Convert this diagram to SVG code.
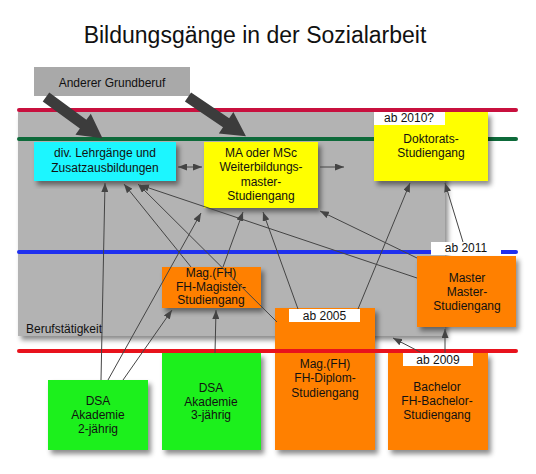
<svg xmlns="http://www.w3.org/2000/svg" width="536" height="474" viewBox="0 0 536 474">
<defs>
<filter id="sh" x="-20%" y="-20%" width="140%" height="140%">
<feDropShadow dx="3" dy="4" stdDeviation="2.5" flood-color="#000" flood-opacity="0.45"/>
</filter>
<marker id="ah" viewBox="0 0 9 7" markerWidth="9" markerHeight="7" refX="9" refY="3.5" orient="auto-start-reverse" markerUnits="userSpaceOnUse">
<path d="M0,0 L9,3.5 L0,7 z" fill="#444"/>
</marker>
<path id="bigarrow" d="M0,-5.5 L46,-5.5 L46,-13 L70,0 L46,13 L46,5.5 L0,5.5 z" fill="#3c3c3c"/>
</defs>
<style>
text{font-family:"Liberation Sans",Arial,sans-serif;font-size:12px;fill:#111}
.c{text-anchor:middle}
.box{filter:url(#sh)}
.lbl{fill:#fff}
.con{stroke:#444;stroke-width:1;fill:none;marker-end:url(#ah)}
.hl{stroke-width:4;stroke-linecap:round;fill:none}
</style>
<rect width="536" height="474" fill="#fff"/>
<text x="255" y="43" class="c" style="font-size:23px">Bildungsgänge in der Sozialarbeit</text>

<g id="berufstaetigkeit">
<rect x="18" y="112" width="427" height="224" fill="#b3b3b3" class="box"/>
<text x="26" y="333">Berufstätigkeit</text>
</g>

<g id="levels-top">
<line x1="19" y1="110" x2="516" y2="110" stroke="#c8103e" class="hl"/>
<line x1="19" y1="139" x2="516" y2="139" stroke="#0d6a3a" class="hl"/>
<line x1="19" y1="252" x2="516" y2="252" stroke="#1f30ee" class="hl"/>
</g>

<g id="anderer">
<rect x="34" y="67" width="156" height="29" fill="#a9a9a9"/>
<text x="112" y="87" class="c">Anderer Grundberuf</text>
</g>

<g id="lehrgaenge">
<rect x="34" y="142" width="142" height="39" fill="#1ff6ff" class="box"/>
<text x="105" y="157" class="c">div. Lehrgänge und</text>
<text x="105" y="172" class="c">Zusatzausbildungen</text>
</g>

<g id="ma">
<rect x="204" y="142" width="114" height="66" fill="#ffff00" class="box"/>
<text x="261" y="157" class="c">MA oder MSc</text>
<text x="261" y="171" class="c">Weiterbildungs-</text>
<text x="261" y="186" class="c">master-</text>
<text x="261" y="200" class="c">Studiengang</text>
</g>

<g id="doktorat">
<rect x="374" y="112" width="114" height="69" fill="#ffff00" class="box"/>
<rect x="374" y="112" width="71" height="13" class="lbl"/>
<text x="409" y="122" class="c">ab 2010?</text>
<text x="431" y="143" class="c">Doktorats-</text>
<text x="431" y="157" class="c">Studiengang</text>
</g>

<g id="magister">
<rect x="162" y="267" width="99" height="41" fill="#ff8000" class="box"/>
<text x="211" y="277" class="c">Mag.(FH)</text>
<text x="211" y="291" class="c">FH-Magister-</text>
<text x="211" y="304" class="c">Studiengang</text>
</g>

<g id="master">
<rect x="417" y="256" width="99" height="71" fill="#ff8000" class="box"/>
<text x="467" y="282" class="c">Master</text>
<text x="467" y="296" class="c">Master-</text>
<text x="467" y="310" class="c">Studiengang</text>
</g>

<g id="diplom">
<rect x="275" y="308" width="100" height="142" fill="#ff8000" class="box"/>
<text x="325" y="368" class="c">Mag.(FH)</text>
<text x="325" y="382" class="c">FH-Diplom-</text>
<text x="325" y="397" class="c">Studiengang</text>
</g>

<g id="bachelor">
<rect x="388" y="353" width="100" height="97" fill="#ff8000" class="box"/>
<text x="437" y="391" class="c">Bachelor</text>
<text x="437" y="405" class="c">FH-Bachelor-</text>
<text x="437" y="419" class="c">Studiengang</text>
</g>

<g id="dsa2">
<rect x="48" y="380" width="100" height="70" fill="#1ef01e" class="box"/>
<text x="98" y="405" class="c">DSA</text>
<text x="98" y="419" class="c">Akademie</text>
<text x="98" y="433" class="c">2-jährig</text>
</g>

<g id="dsa3">
<rect x="162" y="353" width="99" height="97" fill="#1ef01e" class="box"/>
<text x="211" y="392" class="c">DSA</text>
<text x="211" y="406" class="c">Akademie</text>
<text x="211" y="419" class="c">3-jährig</text>
</g>

<g id="level-bottom">
<line x1="19" y1="351" x2="516" y2="351" stroke="#e8121c" class="hl"/>
</g>

<g id="labels">
<rect x="431" y="242" width="70" height="13" class="lbl"/>
<text x="466" y="252" class="c">ab 2011</text>
<rect x="289" y="309" width="71" height="13" class="lbl"/>
<text x="324.5" y="320" class="c">ab 2005</text>
<rect x="403" y="353" width="70" height="13" class="lbl"/>
<text x="438" y="364" class="c">ab 2009</text>
</g>

<g id="connectors">
<use href="#bigarrow" transform="translate(46,97) rotate(36.2)"/>
<use href="#bigarrow" transform="translate(188,97) rotate(34.1)"/>
<line class="con" x1="178" y1="167" x2="202" y2="167" style="marker-start:url(#ah)"/>
<line class="con" x1="320" y1="167" x2="344" y2="167"/>
<line class="con" x1="101" y1="380" x2="105" y2="183"/>
<line class="con" x1="108" y1="380" x2="201" y2="213"/>
<line class="con" x1="123" y1="380" x2="172" y2="310"/>
<line class="con" x1="215" y1="353" x2="216" y2="310"/>
<line class="con" x1="191" y1="267" x2="124" y2="184"/>
<line class="con" x1="223" y1="267" x2="243" y2="212"/>
<line class="con" x1="277" y1="322" x2="138" y2="184"/>
<line class="con" x1="298" y1="309" x2="263" y2="212"/>
<line class="con" x1="358" y1="309" x2="410" y2="183"/>
<line class="con" x1="417" y1="278" x2="140" y2="185"/>
<line class="con" x1="417" y1="258" x2="320" y2="211"/>
<line class="con" x1="463" y1="242" x2="445" y2="183"/>
<line class="con" x1="445" y1="353" x2="445" y2="329"/>
<line class="con" x1="420" y1="352" x2="393" y2="338"/>
</g>
</svg>
